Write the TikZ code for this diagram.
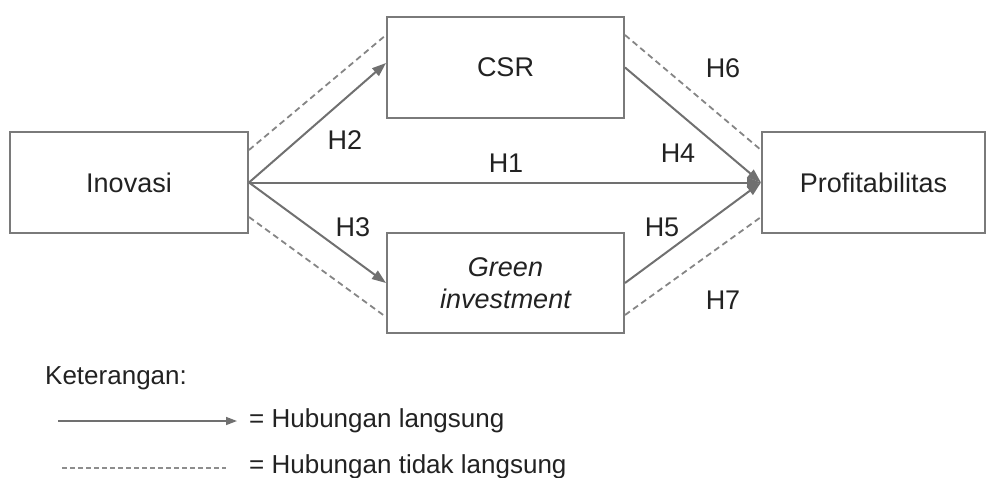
\documentclass[tikz,border=0pt]{standalone}
\usepackage{fontspec}
\setmainfont{Liberation Sans}
\usetikzlibrary{arrows.meta}
\definecolor{lineg}{HTML}{707070}
\definecolor{boxg}{HTML}{7A7A7A}
\definecolor{txt}{HTML}{222222}
\tikzset{
  varbox/.style={draw=boxg, line width=2pt, minimum width=#1, minimum height=101pt, inner sep=0pt, text=txt, align=center, font=\fontsize{27}{32}\selectfont},
  direct/.style={draw=lineg, line width=2pt, -{Triangle[length=14pt,width=10pt]}},
  indirect/.style={draw=lineg!85, line width=1.8pt, dash pattern=on 6pt off 4pt},
  hlab/.style={text=txt, font=\fontsize{27}{32}\selectfont, inner sep=0pt},
  legtext/.style={text=txt, font=\fontsize{26}{31}\selectfont, inner sep=0pt, anchor=west}
}
\begin{document}
\begin{tikzpicture}[x=1pt,y=-1pt]
\useasboundingbox (0,0) rectangle (987,477);
\node[varbox=238pt] (ino) at (129,182.5) {Inovasi};
\node[varbox=237pt] (csr) at (505.5,67.5) {CSR};
\node[varbox=237pt, minimum height=100pt] (green) at (505.5,283) {\itshape Green\\\itshape investment};
\node[varbox=223pt] (prof) at (873.5,182.5) {Profitabilitas};
% direct
\draw[direct] (ino.east) -- (prof.west);
\draw[direct] (ino.east) -- ([yshift=4.5pt]csr.west);
\draw[direct] (ino.east) -- (green.west);
\draw[direct] (csr.east) -- (prof.west);
\draw[direct] (green.east) -- (prof.west);
% indirect
\draw[indirect] ([yshift=32.5pt]ino.east) -- ([yshift=32.5pt]csr.west);
\draw[indirect] ([yshift=-34.5pt]ino.east) -- ([yshift=-34pt]green.west);
\draw[indirect] ([yshift=32.5pt]csr.east) -- ([yshift=32.5pt]prof.west);
\draw[indirect] ([yshift=-32pt]green.east) -- ([yshift=-34.5pt]prof.west);
% labels
\node[hlab] (h1) at (506,163) {H1};
\node[hlab] (h2) at (345,140) {H2};
\node[hlab] (h3) at (353,227) {H3};
\node[hlab] (h4) at (678,153) {H4};
\node[hlab] (h5) at (662,227) {H5};
\node[hlab] (h6) at (723,68) {H6};
\node[hlab] (h7) at (723,300) {H7};
% legend
\node[legtext] (ket) at (45,378) {Keterangan:};
\coordinate (la1) at (58,421);
\coordinate (la2) at (237,421);
\draw[draw=lineg, line width=1.5pt, -{Triangle[length=11pt,width=8pt]}] (la1) -- (la2);
\node[legtext] (l1) at (249,421) {= Hubungan langsung};
\coordinate (lb1) at (62,468);
\coordinate (lb2) at (226,468);
\draw[draw=lineg!80, line width=1.2pt, dash pattern=on 5pt off 3pt] (lb1) -- (lb2);
\node[legtext] (l2) at (249,467) {= Hubungan tidak langsung};
\end{tikzpicture}
\end{document}
